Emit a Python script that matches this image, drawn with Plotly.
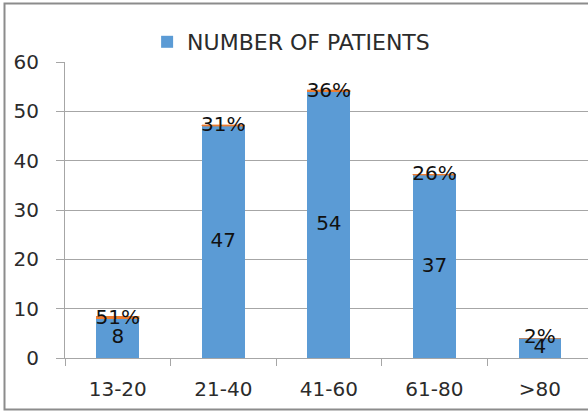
import plotly.graph_objects as go

categories = ["13-20", "21-40", "41-60", "61-80", ">80"]
patients = [8, 47, 54, 37, 4]
percent = [51, 31, 36, 26, 2]

BLUE = "#5B9BD5"
ORANGE = "#ED7D31"
FONT = "DejaVu Sans"
TXT = "#2b2b2b"
GRID = "#A6A6A6"

fig = go.Figure()
fig.add_trace(go.Bar(
    x=categories, y=patients, name="NUMBER OF PATIENTS",
    marker=dict(color=BLUE, line=dict(width=0)), hoverinfo="skip",
))
fig.add_trace(go.Bar(
    x=categories, y=[p / 100 for p in percent], name="PERCENT", showlegend=False,
    marker=dict(color=ORANGE, line=dict(color=ORANGE, width=0.4)), hoverinfo="skip",
))
# value labels centred in the bars
fig.add_trace(go.Scatter(
    x=categories, y=[v / 2 for v in patients], text=[str(v) for v in patients],
    mode="text", textposition="middle center", showlegend=False,
    textfont=dict(family=FONT, size=20, color="#111111"), hoverinfo="skip",
))
# percentage labels at the top of the bars
fig.add_trace(go.Scatter(
    x=categories, y=patients, text=[f"{p}%" for p in percent],
    mode="text", textposition="middle center", showlegend=False,
    textfont=dict(family=FONT, size=20, color="#111111"), hoverinfo="skip",
))

fig.update_layout(
    width=588, height=412,
    margin=dict(l=65, r=0, t=62, b=54, autoexpand=False),
    barmode="stack", bargap=0.593,
    paper_bgcolor="white", plot_bgcolor="white",
    font=dict(family=FONT, size=20, color=TXT),
    showlegend=True,
    legend=dict(
        orientation="h", x=0.157, y=1 + (62 - 42) / 296, xanchor="left", yanchor="middle",
        font=dict(family=FONT, size=22, color=TXT), bgcolor="rgba(0,0,0,0)",
        itemwidth=30,
    ),
    xaxis=dict(
        type="category", range=[-0.5, 4.455], tickson="boundaries",
        showline=True, linecolor=GRID, linewidth=1,
        ticks="outside", ticklen=7, tickcolor=GRID,
        tickfont=dict(family=FONT, size=20, color=TXT),
        ticklabelstandoff=13, showgrid=False, zeroline=False, fixedrange=True,
    ),
    yaxis=dict(
        range=[0, 60], tickvals=[0, 10, 20, 30, 40, 50, 60],
        showline=True, linecolor=GRID, linewidth=1,
        ticks="outside", ticklen=8, tickcolor=GRID,
        showgrid=True, gridcolor=GRID, gridwidth=1, zeroline=False,
        tickfont=dict(family=FONT, size=20, color=TXT),
        ticklabelstandoff=13, fixedrange=True,
    ),
    shapes=[
        dict(type="rect", xref="paper", yref="paper",
             x0=(4.5 - 65) / 523, x1=1.2,
             y0=-(409.5 - 358) / 296, y1=1 + (62 - 3.5) / 296,
             line=dict(color="#8C8C8C", width=2), fillcolor="rgba(0,0,0,0)",
             layer="below"),
    ],
)

fig.write_html("out.html")
